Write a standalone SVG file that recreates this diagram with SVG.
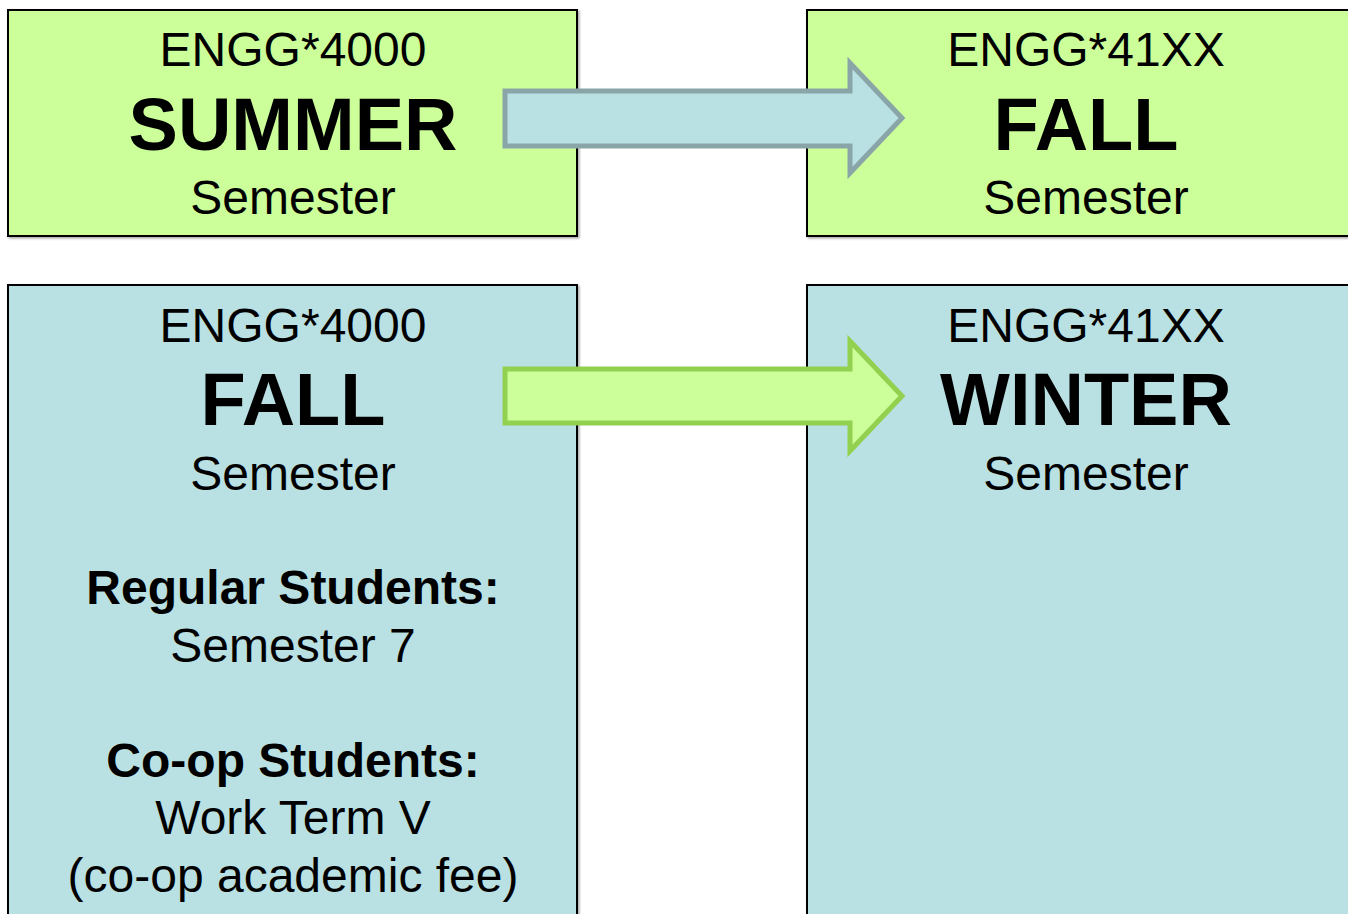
<svg xmlns="http://www.w3.org/2000/svg" width="1348" height="914" viewBox="0 0 1348 914">
<style>
.box{stroke:#000;stroke-width:2}
.g{fill:#CCFF99}
.b{fill:#B9E0E3}
text{font-family:"Liberation Sans",Arial,sans-serif;text-anchor:middle;fill:#000}
.r{font-size:48px}
.big{font-size:74px;font-weight:bold}
.bd{font-size:48px;font-weight:bold}
</style>
<defs>
<filter id="sh" x="-5%" y="-5%" width="110%" height="110%"><feDropShadow dx="1.5" dy="1.5" stdDeviation="0.8" flood-color="#000" flood-opacity="0.35"/></filter>
</defs>
<g id="summer">
<rect class="box g" x="8" y="10" width="569" height="226" filter="url(#sh)"/>
<text class="r" x="293" y="66">ENGG*4000</text>
<text class="big" x="293" y="150">SUMMER</text>
<text class="r" x="293" y="214">Semester</text>
</g>
<g id="fall-top">
<rect class="box g" x="807" y="10" width="560" height="226" filter="url(#sh)"/>
<text class="r" x="1086" y="66">ENGG*41XX</text>
<text class="big" x="1086" y="150">FALL</text>
<text class="r" x="1086" y="214">Semester</text>
</g>
<g id="fall-bottom">
<rect class="box b" x="8" y="285" width="569" height="660" filter="url(#sh)"/>
<text class="r" x="293" y="342">ENGG*4000</text>
<text class="big" x="293" y="425">FALL</text>
<text class="r" x="293" y="490">Semester</text>
<text class="bd" x="293" y="604">Regular Students:</text>
<text class="r" x="293" y="662">Semester 7</text>
<text class="bd" x="293" y="777">Co-op Students:</text>
<text class="r" x="293" y="834">Work Term V</text>
<text class="r" x="293" y="892">(co-op academic fee)</text>
</g>
<g id="winter">
<rect class="box b" x="807" y="285" width="560" height="660" filter="url(#sh)"/>
<text class="r" x="1086" y="342">ENGG*41XX</text>
<text class="big" x="1086" y="425">WINTER</text>
<text class="r" x="1086" y="490">Semester</text>
</g>
<g id="connectors">
<polygon points="505,91 850,91 850,63 902,118 850,173 850,146 505,146" fill="#B9E0E3" stroke="#8AA5A8" stroke-width="5"/>
<polygon points="505,369 850,369 850,341 902,396 850,451 850,423 505,423" fill="#CCFF99" stroke="#92D050" stroke-width="5"/>
</g>
</svg>
